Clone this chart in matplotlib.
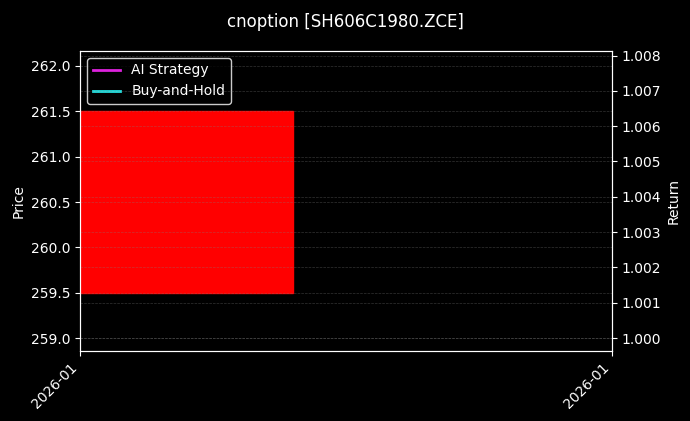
import numpy as np
import matplotlib
matplotlib.use("Agg")
import matplotlib.pyplot as plt
import matplotlib.dates as mdates
import pandas as pd

plt.style.use("dark_background")

# single bar of data
dates = pd.to_datetime(["2026-01-05"])
opens = [261.5]
closes = [259.5]
highs = [262.0]
lows = [259.0]
strategy = [1.0]
buyhold = [1.0]

fig, ax = plt.subplots(figsize=(6.9, 4.21), dpi=100)
fig.patch.set_facecolor("black")
ax.set_facecolor("black")

x = mdates.date2num(dates)
width = 0.8
for xi, o, c in zip(x, opens, closes):
    col = "red" if c < o else "lime"
    ax.bar(xi, abs(c - o), bottom=min(o, c), width=width, color=col, edgecolor=col)

ax.set_xlim(x[0] + 0.0, x[0] + 1.0)
ax.set_ylim(258.857, 262.165)
ax.set_xticks([x[0], x[0] + 1.0])
ax.xaxis.set_major_formatter(mdates.DateFormatter("%Y-%m"))
plt.setp(ax.get_xticklabels(), rotation=45, ha="right")
ax.set_ylabel("Price")
ax.grid(True, color="gray", linestyle="--", linewidth=0.5, alpha=0.4)

ax2 = ax.twinx()
l1, = ax2.plot(x, strategy, color="#dd22dd", linewidth=2, label="AI Strategy")
l2, = ax2.plot(x, buyhold, color="#22e0e0", linewidth=2, label="Buy-and-Hold")
ax2.set_ylim(0.99963, 1.00813)
ax2.set_ylabel("Return")
ax2.grid(True, color="gray", linestyle="--", linewidth=0.5, alpha=0.4)

ax.legend(handles=[l1, l2], loc="upper left", facecolor="black", edgecolor="white")

fig.suptitle("cnoption [SH606C1980.ZCE]", fontsize=12, y=0.97)
fig.subplots_adjust(left=0.116, right=0.887, top=0.879, bottom=0.166)
fig.savefig("out.png", dpi=100, facecolor="black")
